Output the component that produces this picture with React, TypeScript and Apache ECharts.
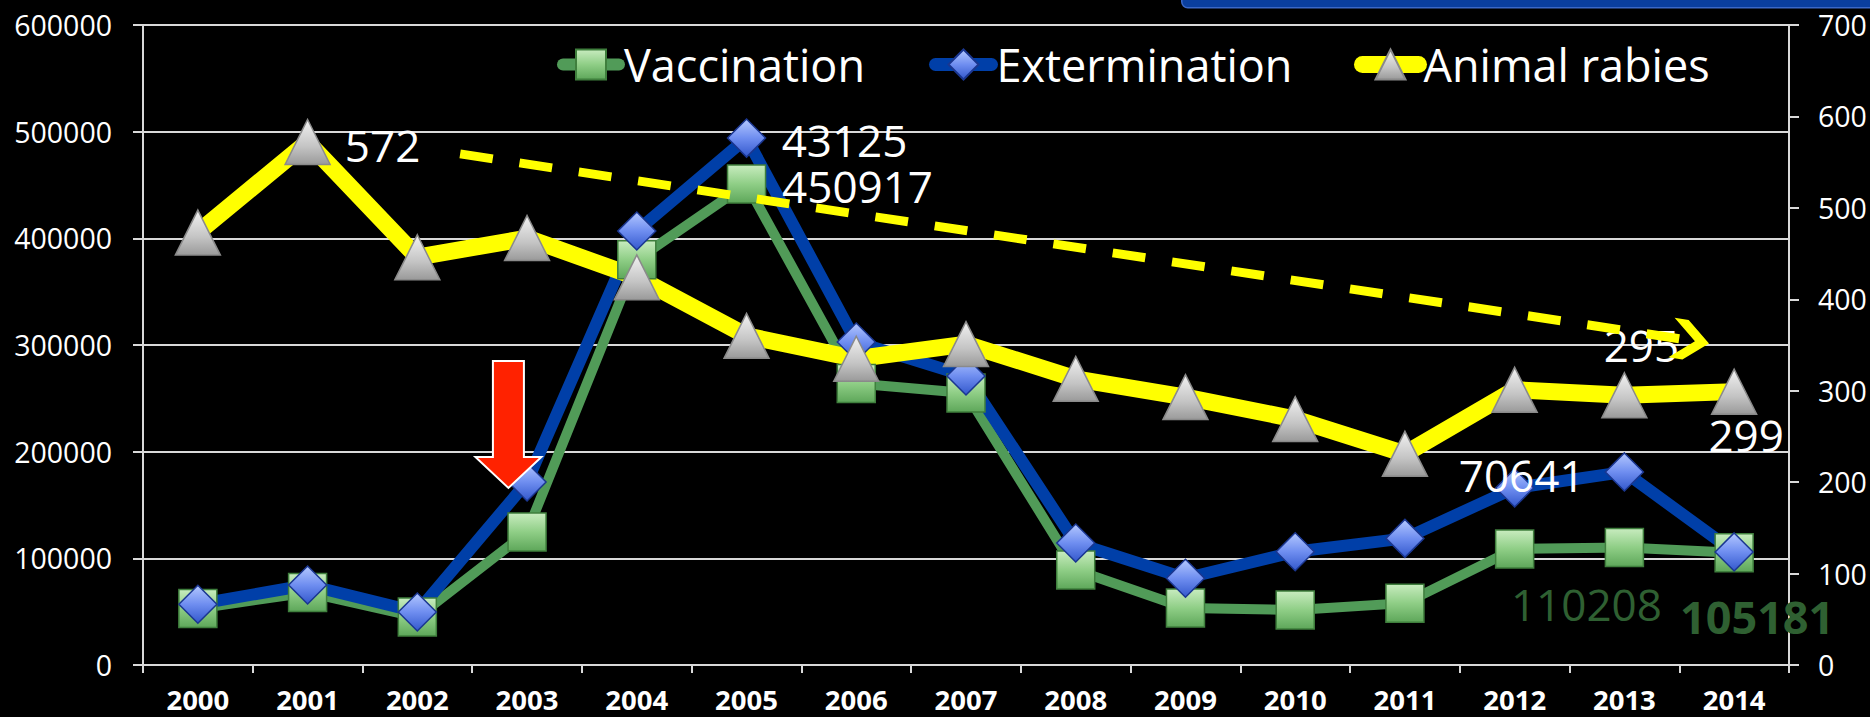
import React, { useEffect, useRef } from "react";
import * as echarts from "echarts";

// ---------- data ----------
const years = ["2000", "2001", "2002", "2003", "2004", "2005", "2006", "2007", "2008", "2009", "2010", "2011", "2012", "2013", "2014"];
const vaccination = [53000, 68000, 45000, 124700, 380000, 450917, 264000, 255000, 89000, 53400, 51600, 58000, 108750, 110208, 105181];
const extermination = [57000, 75000, 49700, 171600, 406900, 494000, 302800, 271000, 114400, 81300, 106200, 118700, 166000, 181000, 106000];
const animalRabies = [473, 572, 446, 467, 424, 360, 335, 351, 313, 293, 269, 231, 301, 295, 299];

const leftAxis = { min: 0, max: 600000, interval: 100000 };
const rightAxis = { min: 0, max: 700, interval: 100 };

// data-label texts as printed on the slide (index in years -> text)
const vaccinationLabels = [
  { index: 5, text: "450917" },
  { index: 13, text: "110208" },
  { index: 14, text: "105181" },
];
const exterminationLabels = [
  { index: 5, text: "43125" },
  { index: 12, text: "70641" },
];
const rabiesLabels = [
  { index: 1, text: "572" },
  { index: 13, text: "295" },
  { index: 14, text: "299" },
];

// trend annotation (x in category units, y on the right axis)
const trendArrow = [
  [2.39, 559],
  [13.6, 355],
];
// red arrow annotation: [x in category units, top, head base, tip] on the left axis
const redArrow = [[2.83, 285000, 195000, 166000]];

// ---------- styles ----------
const FONT = "'Open Sans', 'Liberation Sans', sans-serif";
const GRID_COLOR = "#d9d9d9";

const labelStyle: Record<string, any> = {
  "450917": { offset: [111, 1.5] },
  "110208": { offset: [-38, 57], color: "#2f6032" },
  "105181": { offset: [23, 64], color: "#2f6032", fontWeight: "bold", fontSize: 45 },
  "43125": { offset: [98, 2] },
  "70641": { offset: [7, -13] },
  "572": { offset: [75, 3] },
  "295": { offset: [17, -50] },
  "299": { offset: [12, 43] },
};

function withLabels(values: number[], labels: { index: number; text: string }[]) {
  return values.map((v, i) => {
    const l = labels.find((x) => x.index === i);
    if (!l) return v;
    return {
      value: v,
      label: {
        show: true,
        position: "inside",
        formatter: l.text,
        color: "#ffffff",
        fontSize: 44,
        fontFamily: FONT,
        align: "center",
        verticalAlign: "middle",
        ...labelStyle[l.text],
      },
    };
  });
}

const grad = (stops: [number, string][]) => ({
  type: "linear",
  x: 0,
  y: 0,
  x2: 0,
  y2: 1,
  colorStops: stops.map(([offset, color]) => ({ offset, color })),
});

const squareFill = grad([
  [0, "#c8ecbf"],
  [0.5, "#8fce86"],
  [1, "#5ea75a"],
]);
const diamondFill = grad([
  [0, "#b4c8ff"],
  [0.5, "#6f8ef0"],
  [1, "#3358cc"],
]);
const triangleFill = grad([
  [0, "#f2f2f2"],
  [0.6, "#c4c4c4"],
  [1, "#9a9a9a"],
]);

export default function App() {
  const ref = useRef<HTMLDivElement>(null);

  useEffect(() => {
    document.body.style.margin = "0";
    document.body.style.background = "#000";
    if (!ref.current) return;
    const chart = echarts.init(ref.current, undefined, { renderer: "svg" });

    const axisLabelBase = { color: "#ffffff", fontFamily: FONT };
    const lineBase = { onZero: false, lineStyle: { color: GRID_COLOR, width: 2 } };

    const legendBase = {
      top: 42,
      padding: 0,
      itemWidth: 56,
      itemHeight: 37.5,
      selectedMode: false,
      textStyle: { color: "#ffffff", fontSize: 45, fontFamily: FONT },
    };

    const option: any = {
      animation: false,
      backgroundColor: "#000000",
      grid: { left: 143, top: 25, width: 1646, height: 640, containLabel: false },
      legend: [
        { ...legendBase, left: 557, data: [{ name: "Vaccination", lineStyle: { width: 12, cap: "round" } }] },
        { ...legendBase, left: 929, data: [{ name: "Extermination", lineStyle: { width: 13, cap: "round" } }] },
        { ...legendBase, left: 1354, data: [{ name: "Animal rabies", lineStyle: { width: 17, cap: "round" } }] },
      ],
      xAxis: [
        {
          type: "category",
          data: years,
          boundaryGap: true,
          axisLine: lineBase,
          axisTick: { show: true, length: 8, lineStyle: { color: GRID_COLOR, width: 2 } },
          axisLabel: { ...axisLabelBase, fontSize: 27.5, fontWeight: "bold", margin: 20, interval: 0 },
          splitLine: { show: false },
        },
        {
          type: "value",
          min: -0.5,
          max: 14.5,
          show: false,
          axisLine: { show: false, onZero: false },
          splitLine: { show: false },
        },
      ],
      yAxis: [
        {
          type: "value",
          position: "left",
          min: leftAxis.min,
          max: leftAxis.max,
          interval: leftAxis.interval,
          axisLine: { show: true, ...lineBase },
          axisTick: { show: true, length: 10, lineStyle: { color: GRID_COLOR, width: 2 } },
          axisLabel: { ...axisLabelBase, fontSize: 28.5, margin: 31, formatter: (v: number) => String(v) },
          splitLine: { show: true, lineStyle: { color: GRID_COLOR, width: 2 } },
        },
        {
          type: "value",
          position: "right",
          min: rightAxis.min,
          max: rightAxis.max,
          interval: rightAxis.interval,
          axisLine: { show: true, ...lineBase },
          axisTick: { show: true, length: 10, lineStyle: { color: GRID_COLOR, width: 2 } },
          axisLabel: { ...axisLabelBase, fontSize: 28.5, margin: 29, formatter: (v: number) => String(v) },
          splitLine: { show: false },
        },
      ],
      series: [
        {
          name: "Vaccination",
          type: "line",
          xAxisIndex: 0,
          yAxisIndex: 0,
          data: withLabels(vaccination, vaccinationLabels),
          symbol: "rect",
          symbolSize: 38,
          lineStyle: { color: "#519b58", width: 10 },
          itemStyle: { color: squareFill, borderColor: "#3f7f3d", borderWidth: 1.5 },
          emphasis: { disabled: true },
        },
        {
          name: "Extermination",
          type: "line",
          xAxisIndex: 0,
          yAxisIndex: 0,
          data: withLabels(extermination, exterminationLabels),
          symbol: "diamond",
          symbolSize: 38,
          lineStyle: { color: "#003fa8", width: 12 },
          itemStyle: { color: diamondFill, borderColor: "#1a3690", borderWidth: 1.5 },
          emphasis: { disabled: true },
        },
        {
          name: "Animal rabies",
          type: "line",
          xAxisIndex: 0,
          yAxisIndex: 1,
          data: withLabels(animalRabies, rabiesLabels),
          symbol: "triangle",
          symbolSize: 45,
          lineStyle: { color: "#ffff00", width: 17 },
          itemStyle: { color: triangleFill, borderColor: "#8a8a8a", borderWidth: 1.5 },
          emphasis: { disabled: true },
        },
        {
          name: "trend",
          type: "line",
          xAxisIndex: 1,
          yAxisIndex: 1,
          z: 5,
          data: trendArrow.map((p, i) =>
            i === trendArrow.length - 1
              ? {
                  value: p,
                  symbol: "path://M0,0 L15,0 L40,20 L15,40 L0,40 L25,20 Z",
                  symbolSize: [38, 40],
                  symbolRotate: -9,
                }
              : { value: p, symbol: "none" }
          ),
          lineStyle: { color: "#ffff00", width: 9, type: [33, 27], cap: "butt" },
          itemStyle: { color: "#ffff00" },
          emphasis: { disabled: true },
          silent: true,
        },
        {
          name: "arrow",
          type: "custom",
          xAxisIndex: 1,
          yAxisIndex: 0,
          z: 6,
          silent: true,
          data: redArrow,
          renderItem: (params: any, api: any) => {
            const x = api.value(0);
            const pTop = api.coord([x, api.value(1)]);
            const pHead = api.coord([x, api.value(2)]);
            const pTip = api.coord([x, api.value(3)]);
            const sw = 15.5;
            const hw = 33;
            const cx = pTop[0];
            return {
              type: "polygon",
              shape: {
                points: [
                  [cx - sw, pTop[1]],
                  [cx + sw, pTop[1]],
                  [cx + sw, pHead[1]],
                  [cx + hw, pHead[1]],
                  [pTip[0], pTip[1]],
                  [cx - hw, pHead[1]],
                  [cx - sw, pHead[1]],
                ],
              },
              style: { fill: "#ff2200", stroke: "#ffffff", lineWidth: 2 },
            };
          },
        },
      ],
      graphic: [
        {
          type: "rect",
          left: 1181,
          top: -8,
          shape: { width: 700, height: 15, r: 6 },
          style: { fill: "#0a3f9f", stroke: "#3a68c8", lineWidth: 1.5 },
          silent: true,
        },
      ],
    };

    chart.setOption(option);
    return () => chart.dispose();
  }, []);

  return <div ref={ref} style={{ width: 1870, height: 717, background: "#000" }} />;
}
